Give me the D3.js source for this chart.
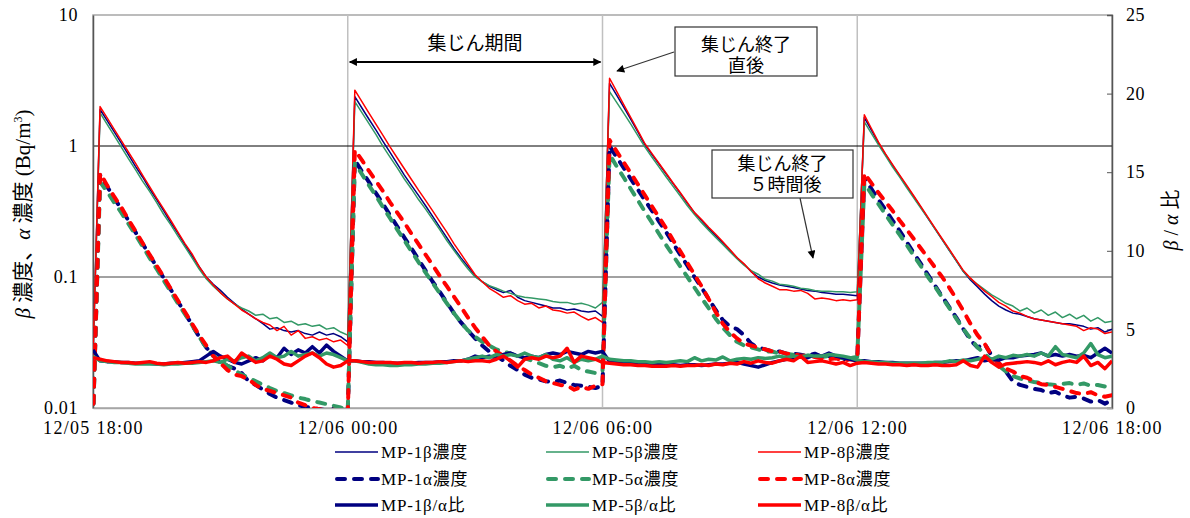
<!DOCTYPE html>
<html>
<head>
<meta charset="utf-8">
<script src="https://cdn.jsdelivr.net/npm/d3@7"></script>
<style>
body { margin: 0; background: #fff; }
svg text { font-family: "Liberation Serif", "Noto Sans CJK JP", serif; fill: #000; }
.jp { font-family: "Noto Sans CJK JP", sans-serif; }
</style>
</head>
<body>
<svg id="chart" width="1190" height="518"></svg>
<script>
// 10-minute readings, 12/05 18:00 .. 12/06 18:00 (145 points), one row per 6 h collection cycle
var tickIndex = [0, 36, 72, 108, 144];
var tickLabels = ["12/05 18:00", "12/06 00:00", "12/06 06:00", "12/06 12:00", "12/06 18:00"];
var logTicks = [0.01, 0.1, 1, 10];
var ratioTicks = [0, 5, 10, 15, 20, 25];

var mp1Beta = [0.025,
  1.9, 1.56, 1.28, 1.05, 0.86, 0.70, 0.58, 0.47, 0.39, 0.32, 0.26, 0.215, 0.176, 0.145, 0.12, 0.10, 0.088, 0.079, 0.070, 0.063, 0.057, 0.052, 0.048, 0.044, 0.040, 0.041, 0.039, 0.038, 0.039, 0.037, 0.036, 0.038, 0.036, 0.037, 0.035, 0.032,
  2.38, 1.95, 1.6, 1.32, 1.08, 0.89, 0.73, 0.6, 0.5, 0.42, 0.35, 0.29, 0.24, 0.2, 0.165, 0.14, 0.12, 0.102, 0.092, 0.085, 0.08, 0.076, 0.079, 0.070, 0.066, 0.064, 0.062, 0.060, 0.058, 0.058, 0.056, 0.057, 0.055, 0.054, 0.055, 0.050,
  3.01, 2.45, 1.98, 1.6, 1.28, 1.02, 0.86, 0.725, 0.61, 0.515, 0.435, 0.365, 0.31, 0.27, 0.235, 0.207, 0.182, 0.16, 0.14, 0.125, 0.11, 0.1, 0.094, 0.09, 0.087, 0.085, 0.083, 0.081, 0.079, 0.078, 0.076, 0.075, 0.074, 0.074, 0.073, 0.072,
  1.65, 1.32, 1.05, 0.86, 0.71, 0.59, 0.49, 0.41, 0.34, 0.28, 0.233, 0.193, 0.16, 0.133, 0.11, 0.095, 0.084, 0.074, 0.066, 0.06, 0.056, 0.053, 0.052, 0.05, 0.048, 0.047, 0.046, 0.045, 0.044, 0.044, 0.043, 0.042, 0.040, 0.041, 0.038, 0.040];

var mp5Beta = [0.025,
  1.79, 1.46, 1.2, 0.98, 0.80, 0.66, 0.54, 0.45, 0.37, 0.30, 0.25, 0.205, 0.17, 0.14, 0.115, 0.097, 0.085, 0.076, 0.068, 0.062, 0.058, 0.055, 0.051, 0.052, 0.048, 0.049, 0.045, 0.046, 0.043, 0.044, 0.042, 0.043, 0.040, 0.041, 0.038, 0.036,
  2.18, 1.8, 1.48, 1.22, 0.99, 0.82, 0.68, 0.56, 0.47, 0.39, 0.33, 0.275, 0.23, 0.19, 0.16, 0.135, 0.115, 0.10, 0.092, 0.086, 0.082, 0.078, 0.075, 0.072, 0.070, 0.069, 0.068, 0.067, 0.065, 0.064, 0.064, 0.062, 0.063, 0.061, 0.058, 0.064,
  2.6, 2.15, 1.78, 1.47, 1.2, 0.98, 0.82, 0.69, 0.58, 0.49, 0.415, 0.35, 0.3, 0.26, 0.228, 0.2, 0.177, 0.156, 0.138, 0.123, 0.112, 0.105, 0.096, 0.093, 0.088, 0.087, 0.085, 0.082, 0.081, 0.079, 0.078, 0.078, 0.077, 0.077, 0.076, 0.077,
  1.53, 1.25, 1.02, 0.84, 0.69, 0.58, 0.48, 0.4, 0.335, 0.28, 0.232, 0.193, 0.16, 0.133, 0.11, 0.097, 0.088, 0.08, 0.073, 0.068, 0.063, 0.06, 0.055, 0.058, 0.053, 0.056, 0.051, 0.054, 0.049, 0.052, 0.048, 0.051, 0.046, 0.049, 0.045, 0.046];

var mp8Beta = [0.025,
  2.0, 1.64, 1.34, 1.10, 0.90, 0.74, 0.60, 0.49, 0.40, 0.33, 0.27, 0.22, 0.18, 0.15, 0.12, 0.10, 0.087, 0.076, 0.068, 0.062, 0.056, 0.052, 0.048, 0.045, 0.043, 0.039, 0.042, 0.036, 0.039, 0.034, 0.035, 0.033, 0.034, 0.032, 0.033, 0.030,
  2.67, 2.18, 1.78, 1.46, 1.20, 0.98, 0.81, 0.67, 0.555, 0.46, 0.385, 0.32, 0.265, 0.22, 0.18, 0.15, 0.125, 0.104, 0.092, 0.082, 0.076, 0.070, 0.072, 0.066, 0.062, 0.063, 0.058, 0.060, 0.056, 0.055, 0.053, 0.054, 0.050, 0.047, 0.049, 0.045,
  3.29, 2.61, 2.07, 1.65, 1.31, 1.04, 0.875, 0.736, 0.62, 0.52, 0.44, 0.37, 0.31, 0.275, 0.24, 0.212, 0.186, 0.162, 0.141, 0.126, 0.11, 0.097, 0.09, 0.085, 0.08, 0.08, 0.078, 0.079, 0.075, 0.068, 0.069, 0.068, 0.066, 0.067, 0.066, 0.067,
  1.73, 1.36, 1.07, 0.87, 0.72, 0.6, 0.5, 0.415, 0.345, 0.285, 0.236, 0.196, 0.163, 0.135, 0.112, 0.098, 0.087, 0.078, 0.071, 0.064, 0.06, 0.055, 0.053, 0.05, 0.048, 0.047, 0.046, 0.045, 0.044, 0.043, 0.042, 0.039, 0.041, 0.040, 0.037, 0.038];

var mp1Alpha = [0.008,
  0.60, 0.49, 0.40, 0.33, 0.27, 0.22, 0.18, 0.146, 0.12, 0.098, 0.08, 0.065, 0.053, 0.043, 0.035, 0.029, 0.025, 0.022, 0.021, 0.020, 0.0185, 0.016, 0.015, 0.0138, 0.0128, 0.012, 0.0115, 0.011, 0.0105, 0.0102, 0.0100, 0.0098, 0.0096, 0.0099, 0.0097, 0.0092,
  0.78, 0.64, 0.53, 0.435, 0.36, 0.295, 0.243, 0.20, 0.165, 0.136, 0.112, 0.092, 0.077, 0.064, 0.053, 0.045, 0.039, 0.034, 0.030, 0.027, 0.025, 0.023, 0.021, 0.0195, 0.018, 0.017, 0.0165, 0.016, 0.0158, 0.0162, 0.0155, 0.015, 0.0148, 0.0145, 0.0142, 0.0148,
  1.0, 0.82, 0.68, 0.56, 0.465, 0.385, 0.32, 0.265, 0.22, 0.18, 0.148, 0.122, 0.1, 0.083, 0.068, 0.056, 0.047, 0.042, 0.040, 0.036, 0.031, 0.029, 0.028, 0.027, 0.027, 0.026, 0.026, 0.0255, 0.025, 0.026, 0.0245, 0.025, 0.024, 0.0235, 0.024, 0.024,
  0.57, 0.47, 0.39, 0.325, 0.27, 0.225, 0.185, 0.152, 0.126, 0.104, 0.086, 0.071, 0.059, 0.049, 0.040, 0.033, 0.029, 0.031, 0.025, 0.022, 0.019, 0.016, 0.015, 0.0145, 0.014, 0.0137, 0.013, 0.0133, 0.0125, 0.012, 0.0122, 0.0118, 0.0112, 0.0115, 0.0108, 0.0115];

var mp5Alpha = [0.008,
  0.53, 0.45, 0.37, 0.31, 0.255, 0.21, 0.172, 0.14, 0.115, 0.094, 0.077, 0.063, 0.052, 0.043, 0.035, 0.029, 0.025, 0.023, 0.021, 0.0195, 0.018, 0.017, 0.016, 0.015, 0.0142, 0.0135, 0.013, 0.0125, 0.012, 0.0117, 0.0113, 0.011, 0.0107, 0.0104, 0.0101, 0.0095,
  0.74, 0.61, 0.50, 0.415, 0.34, 0.28, 0.23, 0.19, 0.157, 0.13, 0.108, 0.09, 0.075, 0.063, 0.053, 0.045, 0.039, 0.035, 0.032, 0.030, 0.028, 0.027, 0.026, 0.025, 0.024, 0.023, 0.022, 0.021, 0.0205, 0.021, 0.020, 0.021, 0.0195, 0.019, 0.0185, 0.019,
  0.86, 0.7, 0.575, 0.47, 0.385, 0.315, 0.26, 0.213, 0.175, 0.145, 0.12, 0.1, 0.083, 0.069, 0.058, 0.048, 0.041, 0.036, 0.032, 0.03, 0.029, 0.028, 0.027, 0.027, 0.026, 0.026, 0.0255, 0.025, 0.025, 0.025, 0.0245, 0.025, 0.0245, 0.024, 0.024, 0.0245,
  0.52, 0.43, 0.36, 0.3, 0.25, 0.21, 0.175, 0.145, 0.121, 0.1, 0.084, 0.07, 0.058, 0.048, 0.04, 0.034, 0.029, 0.026, 0.023, 0.021, 0.019, 0.0175, 0.0168, 0.0162, 0.0158, 0.0155, 0.0152, 0.015, 0.0153, 0.0155, 0.015, 0.0154, 0.0148, 0.015, 0.0146, 0.0148];

var mp8Alpha = [0.008,
  0.62, 0.50, 0.41, 0.34, 0.275, 0.224, 0.182, 0.148, 0.122, 0.10, 0.081, 0.066, 0.054, 0.044, 0.036, 0.030, 0.025, 0.022, 0.0195, 0.018, 0.0175, 0.0165, 0.015, 0.014, 0.0135, 0.013, 0.0125, 0.012, 0.011, 0.0105, 0.010, 0.0098, 0.0095, 0.0097, 0.0094, 0.009,
  0.93, 0.78, 0.645, 0.54, 0.45, 0.37, 0.31, 0.26, 0.214, 0.178, 0.148, 0.123, 0.102, 0.085, 0.071, 0.059, 0.049, 0.041, 0.035, 0.030, 0.027, 0.025, 0.023, 0.021, 0.0195, 0.018, 0.017, 0.016, 0.0155, 0.015, 0.0148, 0.0138, 0.0145, 0.014, 0.0148, 0.0152,
  1.11, 0.91, 0.75, 0.62, 0.51, 0.42, 0.345, 0.285, 0.235, 0.19, 0.157, 0.128, 0.104, 0.085, 0.068, 0.054, 0.044, 0.038, 0.034, 0.031, 0.030, 0.029, 0.028, 0.027, 0.027, 0.026, 0.026, 0.025, 0.025, 0.0245, 0.024, 0.0235, 0.024, 0.023, 0.0235, 0.023,
  0.62, 0.52, 0.44, 0.375, 0.32, 0.27, 0.23, 0.195, 0.165, 0.14, 0.118, 0.1, 0.083, 0.068, 0.055, 0.044, 0.036, 0.031, 0.025, 0.022, 0.02, 0.019, 0.0175, 0.017, 0.016, 0.0152, 0.015, 0.0145, 0.014, 0.0135, 0.013, 0.0128, 0.0132, 0.0125, 0.0122, 0.0125];

var mp1Ratio = [3.7,
  3.0, 2.95, 2.95, 2.9, 2.9, 2.85, 2.85, 2.85, 2.8, 2.8, 2.85, 2.85, 2.9, 2.95, 3.0, 3.3, 3.6, 3.3, 3.1, 2.9, 2.8, 3.0, 3.2, 3.0, 3.4, 3.2, 3.8, 3.4, 3.7, 3.5, 3.9, 3.5, 4.0, 3.6, 3.3, 3.0,
  3.0, 2.95, 2.95, 2.9, 2.9, 2.85, 2.85, 2.85, 2.85, 2.9, 2.9, 2.9, 2.95, 2.95, 3.0, 3.0, 3.1, 3.3, 3.2, 3.3, 3.2, 3.4, 3.5, 3.3, 3.2, 3.3, 3.2, 3.4, 3.5, 3.4, 3.6, 3.5, 3.4, 3.6, 3.5, 3.6,
  2.95, 2.9, 2.85, 2.85, 2.8, 2.8, 2.75, 2.75, 2.75, 2.75, 2.7, 2.75, 2.75, 2.7, 2.75, 2.8, 2.8, 2.85, 2.9, 2.8, 2.7, 2.6, 2.75, 2.9, 3.0, 3.1, 3.2, 3.3, 3.2, 3.4, 3.3, 3.5, 3.3, 3.2, 3.1, 3.0,
  3.0, 2.95, 2.95, 2.9, 2.9, 2.85, 2.85, 2.85, 2.85, 2.85, 2.9, 2.9, 2.95, 3.0, 3.0, 3.1, 3.2, 3.0, 3.1, 3.05, 3.2, 3.2, 3.3, 3.35, 3.4, 3.5, 3.3, 3.4, 3.3, 3.4, 3.3, 3.35, 3.2, 3.5, 3.8, 3.5];

var mp5Ratio = [3.3,
  3.0, 2.95, 2.9, 2.9, 2.85, 2.8, 2.8, 2.8, 2.8, 2.75, 2.8, 2.8, 2.85, 2.85, 2.9, 2.95, 3.0, 2.9, 3.1, 3.0, 3.2, 3.3, 3.0, 3.2, 3.5, 3.2, 3.3, 3.6, 3.3, 3.4, 3.5, 3.3, 3.5, 3.4, 3.2, 3.0,
  3.0, 2.9, 2.8, 2.75, 2.75, 2.7, 2.7, 2.75, 2.75, 2.8, 2.8, 2.85, 2.85, 2.9, 2.95, 3.0, 3.1, 3.2, 3.3, 3.2, 3.4, 3.3, 3.4, 3.3, 3.5, 3.3, 3.2, 3.4, 3.1, 3.0, 3.2, 2.9, 3.1, 3.0, 3.1, 3.3,
  3.1, 3.05, 3.0, 3.0, 2.95, 2.95, 2.9, 2.95, 2.9, 2.95, 3.0, 2.95, 3.2, 3.0, 3.1, 3.05, 3.25, 3.0, 3.1, 3.15, 3.1, 3.2, 3.15, 3.2, 3.3, 3.2, 3.3, 3.25, 3.35, 3.3, 3.3, 3.4, 3.35, 3.3, 3.2, 3.05,
  2.95, 2.95, 2.9, 2.9, 2.85, 2.85, 2.85, 2.85, 2.85, 2.9, 2.9, 2.9, 3.0, 2.95, 3.05, 3.0, 3.1, 3.2, 3.1, 3.3, 3.2, 3.35, 3.3, 3.4, 3.3, 3.5, 3.3, 3.9, 3.4, 3.3, 3.2, 3.5, 4.1, 3.4, 3.2, 3.3];

var mp8Ratio = [3.2,
  3.1, 3.0, 2.95, 2.9, 2.9, 2.85, 2.9, 2.95, 2.85, 2.8, 2.85, 2.9, 2.85, 2.9, 2.95, 2.9, 3.0, 3.2, 3.3, 2.9, 3.5, 3.2, 2.9, 3.0, 3.3, 3.1, 2.8, 2.7, 3.0, 3.3, 3.5, 3.2, 2.8, 2.6, 2.7, 3.0,
  3.0, 2.95, 2.9, 2.9, 2.9, 2.9, 2.85, 2.9, 2.9, 2.85, 2.9, 2.9, 2.95, 2.9, 2.95, 3.0, 2.95, 3.0, 3.0, 2.95, 3.1, 3.3, 3.0, 2.6, 3.1, 3.2, 3.1, 3.3, 3.2, 3.3, 3.8, 2.9, 3.3, 3.2, 3.1, 2.9,
  2.85, 2.8, 2.75, 2.75, 2.7, 2.7, 2.65, 2.65, 2.65, 2.7, 2.65, 2.7, 2.7, 2.75, 2.7, 2.8, 2.75, 2.85, 2.8, 2.95, 2.85, 3.0, 2.9, 2.85, 3.0, 3.1, 3.0, 3.3, 2.9, 2.95, 3.0, 2.9, 2.8, 2.9, 2.7, 2.85,
  2.9, 2.85, 2.8, 2.8, 2.75, 2.75, 2.7, 2.75, 2.7, 2.7, 2.75, 2.7, 2.7, 2.75, 3.0, 2.7, 2.6, 3.3, 2.9, 2.6, 2.8, 2.85, 2.9, 2.95, 2.9, 2.8, 3.0, 2.75, 2.9, 3.0, 2.9, 3.3, 2.7, 2.9, 2.5, 3.0];

var navy = "#000080", green = "#339966", red = "#ff0000";

var series = [
  { name: "MP-1β濃度", values: mp1Beta, axis: "log", color: navy, kind: "beta" },
  { name: "MP-5β濃度", values: mp5Beta, axis: "log", color: green, kind: "beta" },
  { name: "MP-8β濃度", values: mp8Beta, axis: "log", color: red, kind: "beta" },
  { name: "MP-1α濃度", values: mp1Alpha, axis: "log", color: navy, kind: "alpha" },
  { name: "MP-5α濃度", values: mp5Alpha, axis: "log", color: green, kind: "alpha" },
  { name: "MP-8α濃度", values: mp8Alpha, axis: "log", color: red, kind: "alpha" },
  { name: "MP-1β/α比", values: mp1Ratio, axis: "ratio", color: navy, kind: "ratio" },
  { name: "MP-5β/α比", values: mp5Ratio, axis: "ratio", color: green, kind: "ratio" },
  { name: "MP-8β/α比", values: mp8Ratio, axis: "ratio", color: red, kind: "ratio" }
];

var styles = {
  beta:  { width: 1.5, dash: null, cap: "butt" },
  alpha: { width: 4, dash: "8,9", cap: "round" },
  ratio: { width: 3.5, dash: null, cap: "butt" }
};

var plotLeft = 93, plotRight = 1112, plotTop = 15, plotBottom = 408;

var svg = d3.select("#chart");

var x = d3.scaleLinear().domain([0, 144]).range([plotLeft, plotRight]);
var yLog = d3.scaleLog().domain([0.01, 10]).range([plotBottom, plotTop]);
var yRatio = d3.scaleLinear().domain([0, 25]).range([plotBottom, plotTop]);

var defs = svg.append("defs");
defs.append("clipPath").attr("id", "plotClip")
  .append("rect")
  .attr("x", plotLeft).attr("y", plotTop)
  .attr("width", plotRight - plotLeft).attr("height", plotBottom - plotTop);

defs.append("marker")
  .attr("id", "head")
  .attr("viewBox", "0 0 10 10")
  .attr("refX", 9).attr("refY", 5)
  .attr("markerWidth", 10).attr("markerHeight", 8)
  .attr("markerUnits", "userSpaceOnUse")
  .attr("orient", "auto-start-reverse")
  .append("path").attr("d", "M0,0 L10,5 L0,10 Z").attr("fill", "#000");

// frame
svg.append("rect")
  .attr("x", plotLeft).attr("y", plotTop)
  .attr("width", plotRight - plotLeft).attr("height", plotBottom - plotTop)
  .attr("fill", "none").attr("stroke", "#a6a6a6").attr("stroke-width", 1.5);

// vertical grid at cycle boundaries
svg.append("g").selectAll("line")
  .data(tickIndex.slice(1, 4))
  .enter().append("line")
  .attr("x1", function(d) { return x(d); }).attr("x2", function(d) { return x(d); })
  .attr("y1", plotTop).attr("y2", plotBottom)
  .attr("stroke", "#c0c0c0").attr("stroke-width", 1.5);

// horizontal grid at decades
svg.append("g").selectAll("line")
  .data(logTicks.slice(1, 3))
  .enter().append("line")
  .attr("x1", plotLeft).attr("x2", plotRight)
  .attr("y1", function(d) { return yLog(d); }).attr("y2", function(d) { return yLog(d); })
  .attr("stroke", function(d) { return d === 1 ? "#000" : "#444"; }).attr("stroke-width", 1);

// axes
var gLeft = svg.append("g").attr("transform", "translate(" + plotLeft + ",0)")
  .call(d3.axisLeft(yLog).tickValues(logTicks).tickSize(0).tickPadding(15)
    .tickFormat(function(d) { return String(d); }));
var gRight = svg.append("g").attr("transform", "translate(" + plotRight + ",0)")
  .call(d3.axisRight(yRatio).tickValues(ratioTicks).tickSize(-5).tickPadding(14));
var gBottom = svg.append("g").attr("transform", "translate(0," + plotBottom + ")")
  .call(d3.axisBottom(x).tickValues(tickIndex).tickSize(0).tickPadding(13)
    .tickFormat(function(d, i) { return tickLabels[i]; }));

[gLeft, gRight, gBottom].forEach(function(g) {
  g.selectAll("text").attr("font-size", 18).style("letter-spacing", "0.6px").attr("fill", "#222")
    .style("font-family", "'Liberation Serif', serif");
  g.select(".domain").attr("stroke", "#555").attr("stroke-width", 1.5);
  g.selectAll(".tick line").attr("stroke", "#555");
});
gBottom.select(".domain").attr("stroke", "#a6a6a6");
gBottom.selectAll("text").style("letter-spacing", "1.3px");

// axis titles
var leftTitle = svg.append("text")
  .attr("transform", "translate(30,214) rotate(-90)")
  .attr("text-anchor", "middle")
  .attr("font-size", 21);
leftTitle.append("tspan").attr("font-style", "italic").text("β");
leftTitle.append("tspan").text(" 濃度、");
leftTitle.append("tspan").attr("font-style", "italic").text("α");
leftTitle.append("tspan").text(" 濃度 (Bq/m");
leftTitle.append("tspan").attr("font-size", 12).attr("dy", -8).text("3");
leftTitle.append("tspan").attr("dy", 8).text(")");

var rightTitle = svg.append("text")
  .attr("transform", "translate(1178,220) rotate(-90)")
  .attr("text-anchor", "middle")
  .attr("font-size", 20);
rightTitle.append("tspan").attr("font-style", "italic").text("β");
rightTitle.append("tspan").text(" / ");
rightTitle.append("tspan").attr("font-style", "italic").text("α");
rightTitle.append("tspan").text(" 比");

// series
var plot = svg.append("g").attr("clip-path", "url(#plotClip)");

series.forEach(function(s) {
  var yScale = s.axis === "log" ? yLog : yRatio;
  var line = d3.line()
    .x(function(d, i) { return x(i); })
    .y(function(d) { return yScale(s.axis === "log" ? Math.max(d, 0.001) : d); });
  var st = styles[s.kind];
  plot.append("path")
    .datum(s.values)
    .attr("d", line)
    .attr("fill", "none")
    .attr("stroke", s.color)
    .attr("stroke-width", st.width)
    .attr("stroke-dasharray", st.dash)
    .attr("stroke-linecap", st.cap)
    .attr("stroke-linejoin", "round");
});

// annotations
var ann = svg.append("g");
ann.append("text").attr("class", "jp")
  .attr("x", (x(36) + x(72)) / 2).attr("y", 50)
  .attr("text-anchor", "middle").attr("font-size", 19).attr("fill", "#333")
  .text("集じん期間");
ann.append("line")
  .attr("x1", x(36) + 2).attr("x2", x(72) - 2)
  .attr("y1", 62).attr("y2", 62)
  .attr("stroke", "#000").attr("stroke-width", 2)
  .attr("marker-start", "url(#head)").attr("marker-end", "url(#head)");

function noteBox(bx, by, bw, bh, lines, firstBase, dx) {
  ann.append("rect")
    .attr("x", bx).attr("y", by).attr("width", bw).attr("height", bh)
    .attr("fill", "#fff").attr("stroke", "#333").attr("stroke-width", 1.2);
  var t = ann.append("text").attr("class", "jp")
    .attr("text-anchor", "middle").attr("font-size", 18).attr("fill", "#333");
  lines.forEach(function(s, i) {
    t.append("tspan")
      .attr("x", bx + bw / 2 + (i ? dx : 0))
      .attr("y", by + firstBase + i * 21)
      .text(s);
  });
}
noteBox(675, 27, 142, 49, ["集じん終了", "直後"], 24, 0);
noteBox(712, 150, 141, 48, ["集じん終了", "５時間後"], 20, 3);

ann.append("line")
  .attr("x1", 674).attr("y1", 52).attr("x2", 617).attr("y2", 71)
  .attr("stroke", "#333").attr("stroke-width", 1.2)
  .attr("marker-end", "url(#head)");
ann.append("line")
  .attr("x1", 800).attr("y1", 198).attr("x2", 813).attr("y2", 258)
  .attr("stroke", "#333").attr("stroke-width", 1.2)
  .attr("marker-end", "url(#head)");

// legend: 3 columns x 3 rows
var legendCols = [335, 546, 758];
var legendRows = [452, 479, 505];
var legend = svg.append("g").selectAll("g")
  .data(series)
  .enter().append("g")
  .attr("transform", function(d, i) {
    return "translate(" + legendCols[i % 3] + "," + legendRows[Math.floor(i / 3)] + ")";
  });
legend.append("line")
  .attr("x1", function(d) { return d.kind === "alpha" ? 2 : 0; })
  .attr("x2", 43).attr("y1", 0).attr("y2", 0)
  .attr("stroke", function(d) { return d.color; })
  .attr("stroke-width", function(d) { return styles[d.kind].width; })
  .attr("stroke-dasharray", function(d) { return styles[d.kind].dash; })
  .attr("stroke-linecap", function(d) { return styles[d.kind].cap; });
legend.append("text")
  .attr("x", 46).attr("y", 6)
  .attr("font-size", 17)
  .style("letter-spacing", "0.8px")
  .text(function(d) { return d.name; });
</script>
</body>
</html>
